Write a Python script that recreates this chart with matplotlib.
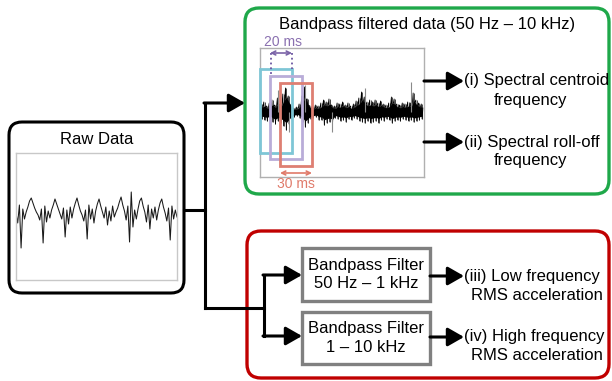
"""
Diagrama del flujo de procesamiento de la señal de vibración
"""

import matplotlib.pyplot as plt
from matplotlib.patches import FancyBboxPatch, Rectangle

plt.rcParams['font.family'] = ['Liberation Sans', 'DejaVu Sans']

W, H = 612, 381

# señal cruda (desplazamiento respecto a la línea central, + hacia arriba)
raw_signal = [2, -8, 10, -33, 6, -4, 3, 8, 14, 17, 12, 7, 3, 0,
              -5, 6, -28, 9, -7, 4, -3, 5, 10, 16, 11, 6, 1,
              -4, 7, -22, 5, -9, 8, -3, 6, 12, 17, 10, 4, 0,
              -6, 5, -24, 10, -4, 6, -8, 4, 11, 16, 9, 3,
              -3, 8, -10, 4, -6, 9, -2, 3, 7, 13, 18, 10, 4,
              -5, 9, -27, 23, -12, 5, -4, 6, 14, 17, 9, 3,
              -7, 10, -14, 6, -3, 8, -5, 5, 12, 16, 8, 2,
              -6, 7, -25, 9, -4, 5, -2]

# envolvente de la señal filtrada (por encima / por debajo del centro)
filt_top = [8, 10, 6, 9, 12, 7, 14, 8, 18, 24, 16, 6, 4, 5, 8, 16, 25, 13, 6, 5,
            7, 6, 9, 12, 10, 13, 7, 6, 9, 8, 10, 7, 9, 6, 8, 11, 14, 20, 15, 10,
            12, 10, 12, 9, 11, 8, 7, 9, 15, 13, 8, 7, 9, 8, 10, 9, 19, 12, 9, 8]
filt_bottom = [7, 8, 9, 6, 10, 12, 9, 11, 14, 18, 12, 7, 5, 4, 6, 10, 15, 11, 7, 6,
               5, 8, 8, 13, 11, 10, 12, 6, 7, 9, 8, 10, 7, 8, 6, 7, 9, 10, 11, 9,
               11, 10, 9, 11, 8, 9, 7, 8, 11, 9, 8, 9, 7, 8, 9, 8, 10, 9, 8, 7]

# picos aislados (índice sobre la envolvente, amplitud)
spike_idx = [6, 10, 16, 26, 38, 55]
spike_amp = [22, -20, 27, -20, 24, 30]

window_labels = ['20 ms', '30 ms']
filter_labels = ['Bandpass Filter\n50 Hz \u2013 1 kHz', 'Bandpass Filter\n1 \u2013 10 kHz']
feature_first = ['(i) Spectral centroid', '(ii) Spectral roll-off',
                 '(iii) Low frequency', '(iv) High frequency']
feature_second = ['frequency', 'frequency', 'RMS acceleration', 'RMS acceleration']

GREEN = '#1fa84a'
RED = '#c00000'
FS = 12


def px_axes(fig, x0, y0, x1, y1):
    return fig.add_axes([x0 / W, 1 - y1 / H, (x1 - x0) / W, (y1 - y0) / H])


def flecha(ax, x0, y0, x1, y1):
    ax.annotate('', xy=(x1, y1), xytext=(x0, y0),
                arrowprops=dict(arrowstyle='-|>,head_length=0.7,head_width=0.4',
                                lw=2.2, color='black', mutation_scale=14,
                                shrinkA=0, shrinkB=0))


fig = plt.figure(figsize=(W / 100, H / 100), dpi=100)
ax = fig.add_axes([0, 0, 1, 1], zorder=2)
ax.set_xlim(0, W)
ax.set_ylim(H, 0)
ax.axis('off')

# --- panel de la señal cruda ---
ax_raw = px_axes(fig, 16, 153, 177, 280)
ax_raw.set_zorder(1)
ax_raw.plot(range(len(raw_signal)), raw_signal, color='#1a1a1a', lw=0.75)
ax_raw.set_xlim(0, len(raw_signal) - 1)
ax_raw.set_ylim(-65, 62)
ax_raw.set_xticks([])
ax_raw.set_yticks([])
for s in ax_raw.spines.values():
    s.set_color('#c8c8c8')
    s.set_linewidth(1)

# --- panel de la señal filtrada ---
ax_f = px_axes(fig, 260, 48, 424, 177)
ax_f.set_zorder(1)
n = len(filt_top)
# núcleo denso de la señal
ax_f.fill_between(range(n), [-0.6 * b for b in filt_bottom],
                  [0.6 * t for t in filt_top], color='black', lw=0)
zx, zy = [], []
for i in range(n):
    zx += [i - 0.3, i, i + 0.3]
    zy += [filt_top[i], -filt_bottom[i], filt_top[i] * 0.5]
ax_f.plot(zx, zy, color='black', lw=0.6)
ax_f.vlines(range(n), [-b for b in filt_bottom], filt_top, color='black', lw=0.5)
ax_f.vlines(spike_idx, 0, spike_amp, color='#8a8a8a', lw=0.8)
ax_f.set_xlim(-0.7, n - 0.3)
ax_f.set_ylim(-65, 64)
ax_f.set_xticks([])
ax_f.set_yticks([])
for s in ax_f.spines.values():
    s.set_color('#b0b0b0')
    s.set_linewidth(1)

# ventanas de análisis
ax.add_patch(Rectangle((260, 69), 32, 84, fill=False, ec='#7ec6d6', lw=2))
ax.add_patch(Rectangle((270, 76), 32, 83, fill=False, ec='#b9acd8', lw=2))
ax.add_patch(Rectangle((280, 83), 32, 83, fill=False, ec='#de7f72', lw=2))

ax.plot([270.5, 270.5], [53, 76], color='#6a54a0', lw=1.3, ls=':')
ax.plot([292, 292], [53, 69], color='#6a54a0', lw=1.3, ls=':')
ax.annotate('', xy=(270, 53), xytext=(292, 53),
            arrowprops=dict(arrowstyle='<->', color='#7b64a8', lw=1.2,
                            shrinkA=0, shrinkB=0, mutation_scale=7))
ax.text(283, 42, window_labels[0], color='#8a70b0', fontsize=10, ha='center', va='center')
ax.annotate('', xy=(280, 173), xytext=(312, 173),
            arrowprops=dict(arrowstyle='<->', color='#e07a6a', lw=1.2,
                            shrinkA=0, shrinkB=0, mutation_scale=7))
ax.text(296, 184, window_labels[1], color='#e07a6a', fontsize=10, ha='center', va='center')

# --- cajas principales ---
ax.add_patch(FancyBboxPatch((9, 122), 175, 171, boxstyle='round,pad=0,rounding_size=13',
                            fill=False, ec='black', lw=2.2))
ax.text(97, 139, 'Raw Data', fontsize=FS, ha='center', va='center')

ax.add_patch(FancyBboxPatch((245, 8), 364, 186, boxstyle='round,pad=0,rounding_size=14',
                            fill=False, ec=GREEN, lw=2.4))
ax.text(427, 24, 'Bandpass filtered data (50 Hz \u2013 10 kHz)', fontsize=FS,
        ha='center', va='center')

ax.add_patch(FancyBboxPatch((247, 231), 362, 147, boxstyle='round,pad=0,rounding_size=14',
                            fill=False, ec=RED, lw=2.4))

# filtros
filter_y = [(248, 301), (312, 364)]
for (y0, y1), lab in zip(filter_y, filter_labels):
    ax.add_patch(Rectangle((302, y0), 128, y1 - y0, fill=False, ec='#808080', lw=2.4))
    ax.text(366, (y0 + y1) / 2, lab, fontsize=FS, ha='center', va='center',
            linespacing=1.25)

# --- conectores ---
ax.plot([184, 205, 205], [210, 210, 308], color='black', lw=2.2, solid_joinstyle='miter')
ax.plot([205, 205], [103, 210], color='black', lw=2.2)
flecha(ax, 204, 103, 245, 103)
ax.plot([205, 264], [308, 308], color='black', lw=2.2)
ax.plot([264, 264], [275, 336], color='black', lw=2.2)
flecha(ax, 263, 275, 302, 275)
flecha(ax, 263, 336, 302, 336)

# salidas
out_y = [81, 142, 276, 337]
out_x0 = [424, 424, 430, 430]
for y, x0, t1, t2 in zip(out_y, out_x0, feature_first, feature_second):
    flecha(ax, x0, y, 464, y)
    ax.text(464, y, t1, fontsize=FS, ha='left', va='center')
    cx = 530 if t2 == 'frequency' else 537
    ax.text(cx, y + 19, t2, fontsize=FS, ha='center', va='center')

fig.savefig('out.png', dpi=100)
